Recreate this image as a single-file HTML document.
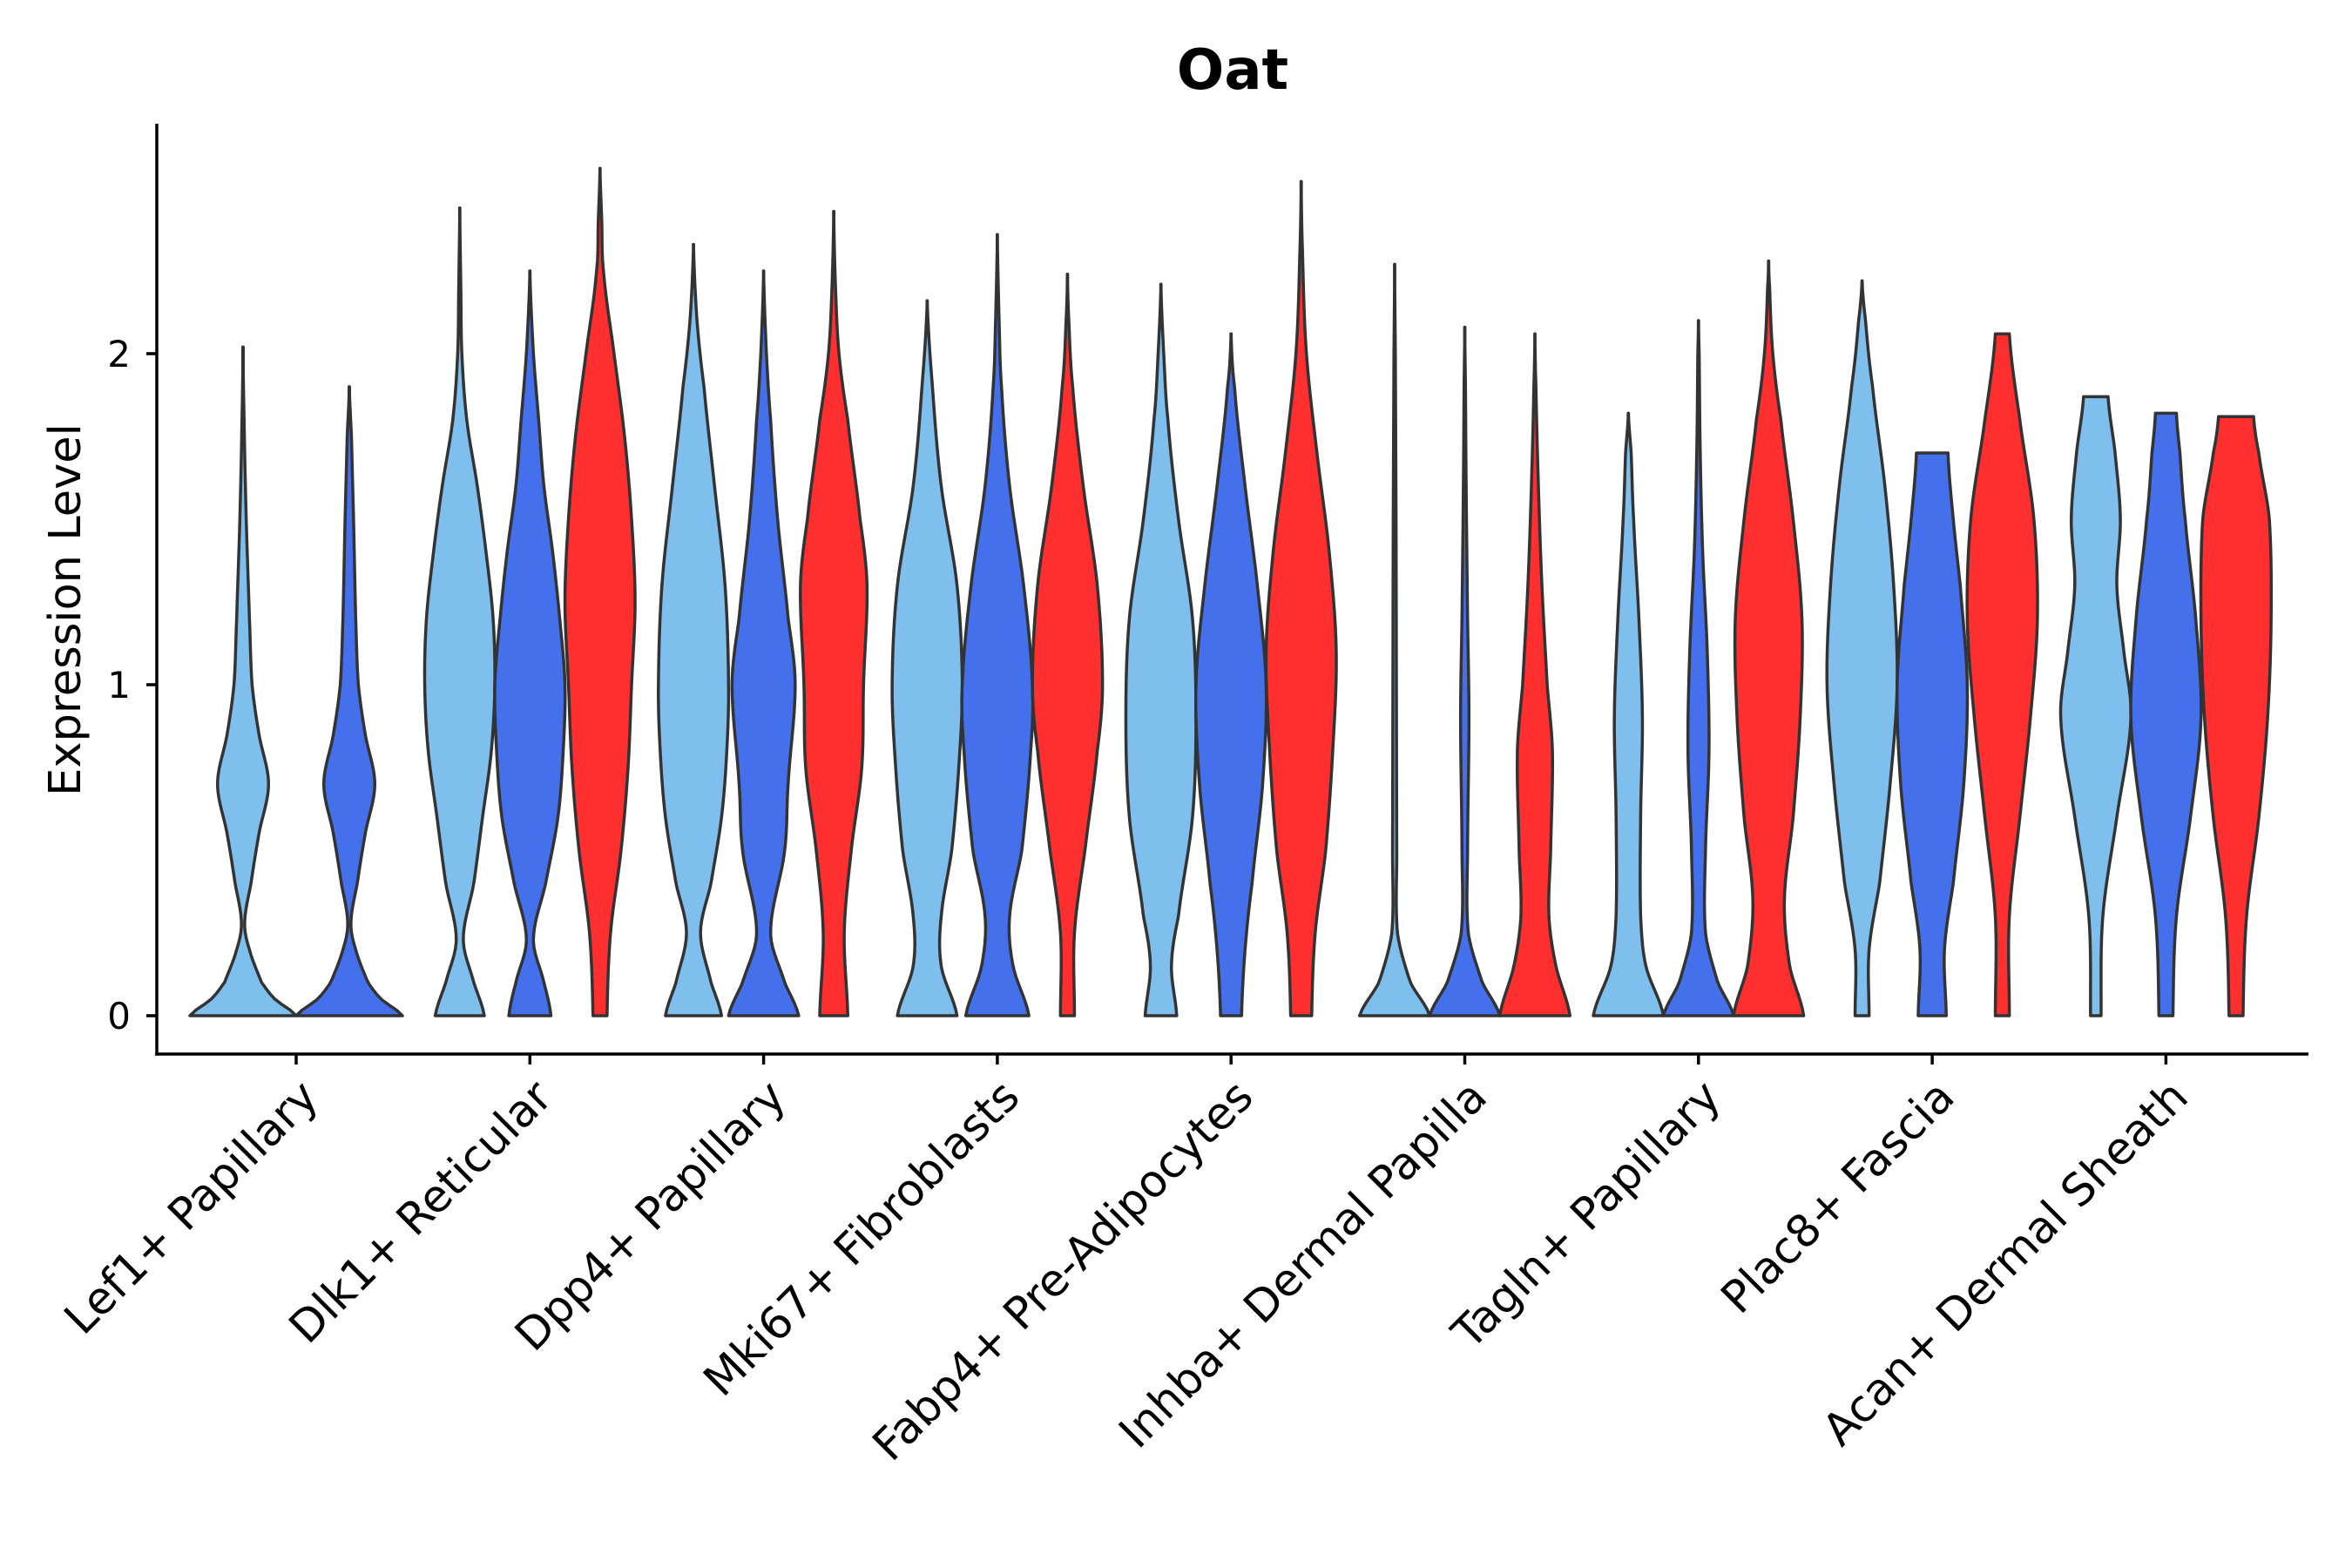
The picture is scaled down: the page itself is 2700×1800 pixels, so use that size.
<!DOCTYPE html>
<html><head><meta charset="utf-8"><style>
html,body{margin:0;padding:0;background:#fff;}
svg{display:block;font-family:"DejaVu Sans","Liberation Sans",sans-serif;}
</style></head><body>
<svg id="chart" width="2700" height="1800" viewBox="0 0 2700 1800" xmlns="http://www.w3.org/2000/svg">
<rect x="0" y="0" width="2700" height="1800" fill="#fff"/>
<text x="1415" y="102" text-anchor="middle" font-size="64" font-weight="bold" fill="#000">Oat</text>
<text transform="translate(92,700) rotate(-90)" text-anchor="middle" font-size="51" fill="#000">Expression Level</text>
<g id="marks"></g>
<g id="axes"></g>
</svg>
<script>
const categories = ["Lef1+ Papillary","Dlk1+ Reticular","Dpp4+ Papillary","Mki67+ Fibroblasts","Fabp4+ Pre-Adipocytes","Inhba+ Dermal Papilla","Tagln+ Papillary","Plac8+ Fascia","Acan+ Dermal Sheath"];
const yTicks = [0,1,2];
const seriesColors = ["#7FBFEE","#4470EB","#FF2F2F"];
const violinGroup  = [0,0, 1,1,1, 2,2,2, 3,3,3, 4,4,4, 5,5,5, 6,6,6, 7,7,7, 8,8,8];
const violinSeries = [0,1, 0,1,2, 0,1,2, 0,1,2, 0,1,2, 0,1,2, 0,1,2, 0,1,2, 0,1,2];
const violinY = [
 [0,0.05,0.1,0.2,0.28,0.4,0.55,0.7,0.85,1.0,1.2,1.5,1.8,2.02],
 [0,0.05,0.1,0.2,0.28,0.4,0.55,0.7,0.85,1.0,1.2,1.5,1.75,1.9],
 [0,0.1,0.23,0.4,0.6,0.8,1.0,1.2,1.4,1.6,1.8,2.0,2.2,2.44],
 [0,0.1,0.23,0.4,0.6,0.8,1.0,1.2,1.4,1.6,1.8,2.0,2.25],
 [0,0.25,0.5,0.75,1.0,1.25,1.5,1.75,2.0,2.25,2.4,2.56],
 [0,0.1,0.25,0.4,0.6,0.8,1.0,1.3,1.6,1.9,2.1,2.33],
 [0,0.1,0.25,0.5,0.7,1.0,1.2,1.5,1.8,2.0,2.25],
 [0,0.25,0.5,0.75,1.0,1.3,1.5,1.8,2.0,2.2,2.43],
 [0,0.15,0.3,0.5,0.75,1.0,1.3,1.6,1.9,2.16],
 [0,0.15,0.3,0.5,0.8,1.0,1.3,1.6,1.9,2.1,2.36],
 [0,0.25,0.5,0.8,1.0,1.3,1.6,1.9,2.1,2.24],
 [0,0.15,0.3,0.6,0.9,1.2,1.5,1.8,2.0,2.21],
 [0,0.2,0.4,0.7,1.0,1.3,1.6,1.9,2.06],
 [0,0.25,0.5,0.8,1.1,1.4,1.7,2.0,2.3,2.52],
 [0,0.1,0.25,0.5,1.0,1.5,2.0,2.27],
 [0,0.1,0.25,0.5,0.9,1.2,1.6,1.9,2.08],
 [0,0.15,0.3,0.5,0.8,1.0,1.3,1.6,1.9,2.06],
 [0,0.15,0.3,0.6,0.9,1.2,1.5,1.7,1.82],
 [0,0.1,0.25,0.5,0.8,1.1,1.4,1.7,2.0,2.1],
 [0,0.15,0.35,0.6,0.9,1.2,1.5,1.8,2.0,2.2,2.28],
 [0,0.2,0.4,0.7,1.0,1.3,1.6,1.9,2.1,2.22],
 [0,0.2,0.4,0.7,1.0,1.3,1.5,1.7],
 [0,0.3,0.6,0.9,1.2,1.5,1.8,2.06],
 [0,0.3,0.6,0.9,1.1,1.3,1.5,1.7,1.87],
 [0,0.3,0.6,0.9,1.2,1.5,1.7,1.82],
 [0,0.3,0.6,0.9,1.2,1.5,1.7,1.81]
];
const violinW = [
 [1.0,0.6,0.35,0.12,0.03,0.15,0.3,0.48,0.3,0.17,0.12,0.06,0.02,0],
 [1.0,0.6,0.35,0.12,0.03,0.15,0.3,0.48,0.3,0.17,0.12,0.08,0.04,0],
 [0.7,0.4,0.1,0.4,0.65,0.9,1.0,0.95,0.75,0.5,0.2,0.06,0.03,0],
 [0.6,0.4,0.1,0.45,0.8,0.95,1.0,0.85,0.65,0.4,0.25,0.1,0],
 [0.2,0.3,0.6,0.8,0.9,1.0,0.9,0.7,0.4,0.1,0.05,0],
 [0.8,0.5,0.2,0.5,0.8,0.95,1.0,0.9,0.6,0.3,0.1,0],
 [1.0,0.6,0.2,0.6,0.7,0.9,0.7,0.4,0.2,0.08,0],
 [0.4,0.3,0.5,0.8,0.85,0.95,0.75,0.4,0.15,0.05,0],
 [0.85,0.4,0.4,0.7,0.9,1.0,0.85,0.4,0.15,0],
 [0.9,0.45,0.35,0.7,0.95,1.0,0.75,0.35,0.12,0.05,0],
 [0.2,0.2,0.5,0.85,1.0,0.85,0.45,0.15,0.04,0],
 [0.45,0.3,0.5,0.9,1.0,0.9,0.5,0.2,0.08,0],
 [0.3,0.4,0.6,0.9,1.0,0.75,0.4,0.1,0],
 [0.3,0.4,0.7,0.9,1.0,0.8,0.45,0.15,0.04,0],
 [1.0,0.45,0.08,0.06,0.05,0.04,0.02,0],
 [1.0,0.5,0.1,0.08,0.12,0.08,0.04,0.02,0],
 [1.0,0.6,0.4,0.45,0.5,0.35,0.2,0.1,0.03,0],
 [1.0,0.5,0.35,0.35,0.4,0.3,0.15,0.08,0],
 [1.0,0.55,0.2,0.2,0.3,0.25,0.12,0.05,0.02,0],
 [1.0,0.6,0.45,0.7,0.9,0.95,0.7,0.35,0.12,0.03,0],
 [0.2,0.2,0.5,0.8,1.0,0.9,0.65,0.3,0.1,0],
 [0.4,0.35,0.6,0.9,1.0,0.8,0.6,0.45],
 [0.2,0.2,0.5,0.8,1.0,0.9,0.5,0.2],
 [0.15,0.2,0.6,1.0,0.8,0.6,0.7,0.55,0.35],
 [0.2,0.3,0.7,1.0,0.85,0.55,0.4,0.3],
 [0.2,0.3,0.65,0.9,1.0,0.95,0.65,0.5]
];

const NS="http://www.w3.org/2000/svg";
const X0=180, X1=2650, YT=142, YB=1210;
const groupStart=340, groupStep=268.3;
function yScale(v){return 1166 - v*380;}
function xGroup(i){return groupStart + i*groupStep;}
function nInGroup(g){return violinGroup.filter(x=>x===g).length;}
function interp(ys,ws,y){
  let k=0; while(k<ys.length-2 && y>ys[k+1]) k++;
  const t=Math.min(1,Math.max(0,(y-ys[k])/(ys[k+1]-ys[k])));
  const p0=ws[Math.max(k-1,0)],p1=ws[k],p2=ws[k+1],p3=ws[Math.min(k+2,ws.length-1)];
  const t2=t*t,t3=t2*t;
  let v=0.5*((2*p1)+(-p0+p2)*t+(2*p0-5*p1+4*p2-p3)*t2+(-p0+3*p1-3*p2+p3)*t3);
  return Math.max(0.004,v);
}
const marks=document.getElementById('marks');
for(let i=0;i<violinY.length;i++){
  const g=violinGroup[i], s=violinSeries[i], n=nInGroup(g);
  const idx=violinSeries.filter((_,j)=>violinGroup[j]===g).indexOf(s);
  const step = n===3?80.5:122;
  const cx=xGroup(g)+(idx-(n-1)/2)*step;
  const half=step/2;
  const ys=violinY[i], ws=violinW[i], ymax=ys[ys.length-1];
  const N=120, L=[], R=[];
  for(let k=0;k<=N;k++){
    const y=ymax*k/N; const w=interp(ys,ws,y)*half;
    R.push([cx+w,yScale(y)]); L.push([cx-w,yScale(y)]);
  }
  let d="M"+L[0][0].toFixed(2)+","+L[0][1].toFixed(2);
  for(const p of R) d+="L"+p[0].toFixed(2)+","+p[1].toFixed(2);
  for(let k=L.length-1;k>=0;k--) d+="L"+L[k][0].toFixed(2)+","+L[k][1].toFixed(2);
  d+="Z";
  const path=document.createElementNS(NS,'path');
  path.setAttribute('d',d);
  path.setAttribute('fill',seriesColors[s]);
  path.setAttribute('stroke','#333');
  path.setAttribute('stroke-width','3.5');
  path.setAttribute('stroke-linejoin','round');
  
  
  marks.appendChild(path);
}
const axes=document.getElementById('axes');
function line(x1,y1,x2,y2,name){
  const l=document.createElementNS(NS,'line');
  l.setAttribute('x1',x1);l.setAttribute('y1',y1);l.setAttribute('x2',x2);l.setAttribute('y2',y2);
  l.setAttribute('stroke','#000');l.setAttribute('stroke-width','3.5');
  
  
  axes.appendChild(l);
}
line(X0,YT,X0,YB+1.75,'y-axis-line');
line(X0-1.75,YB,X1,YB,'x-axis-line');
for(const t of yTicks){
  const y=yScale(t);
  line(X0-12,y,X0,y,'y-tick');
  const tx=document.createElementNS(NS,'text');
  tx.setAttribute('x',X0-30);tx.setAttribute('y',y+15);
  tx.setAttribute('text-anchor','end');tx.setAttribute('font-size','42');
  tx.textContent=t;
  
  
  axes.appendChild(tx);
}
categories.forEach((c,i)=>{
  const x=xGroup(i);
  line(x,YB,x,YB+12,'x-tick');
  const tx=document.createElementNS(NS,'text');
  tx.setAttribute('transform','translate('+(x+28)+','+(YB+52)+') rotate(-45)');
  tx.setAttribute('text-anchor','end');tx.setAttribute('font-size','51');
  tx.textContent=c;
  
  
  axes.appendChild(tx);
});
</script>
</body></html>
